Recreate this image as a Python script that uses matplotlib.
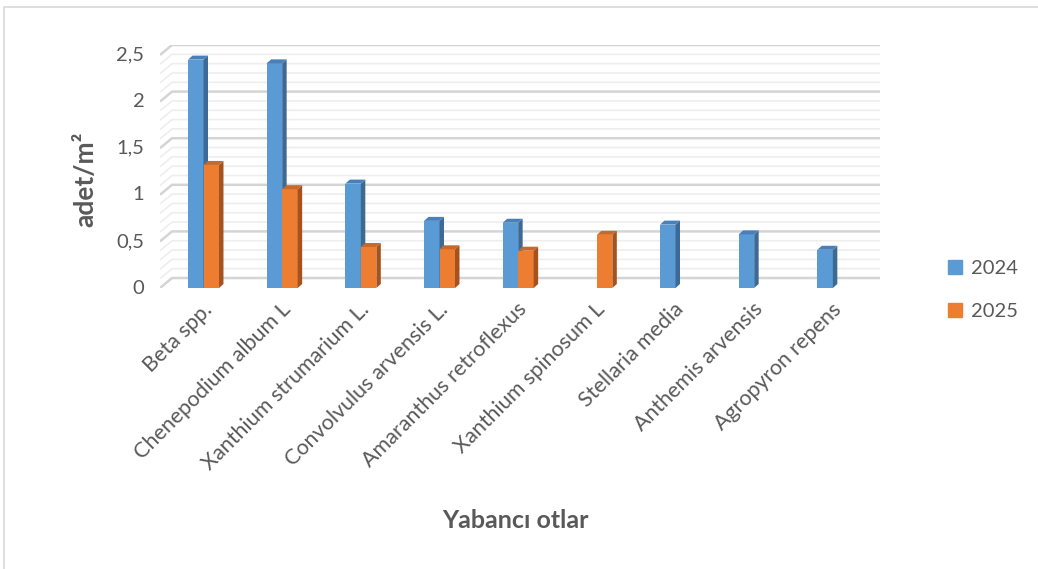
import matplotlib.pyplot as plt
import matplotlib.patches as mpatches
from matplotlib.patches import Polygon
import numpy as np

plt.rcParams['font.family'] = ['Lato', 'DejaVu Sans']

kategoriler = ['Beta spp.', 'Chenepodium album L', 'Xanthium strumarium L.',
               'Convolvulus arvensis L.', 'Amaranthus retroflexus', 'Xanthium spinosum L',
               'Stellaria media', 'Anthemis arvensis', 'Agropyron repens']
y2024 = [2.45, 2.41, 1.12, 0.72, 0.70, 0, 0.68, 0.575, 0.41]
y2025 = [1.32, 1.06, 0.44, 0.415, 0.40, 0.57, 0, 0, 0]
yticks = [0, 0.5, 1, 1.5, 2, 2.5]
ytick_labels = ['0', '0,5', '1', '1,5', '2', '2,5']

W, H = 1038, 569
fig = plt.figure(figsize=(W / 100, H / 100), dpi=100)

# ramka wykresu
fig.patches.append(mpatches.Rectangle((4 / W, -0.1), 1.2, 1 - 7 / H + 0.1, transform=fig.transFigure,
                                      fill=False, edgecolor='#d9d9d9', linewidth=1.2))

ax = fig.add_axes([160 / W, (H - 288) / H, 720 / W, 243 / H])
n = len(kategoriler)
dx, dy = 0.1525, 0.107      # przesuniecie tylnej sciany
ddx, ddy = 0.057, 0.043     # glebokosc slupka
ax.set_xlim(0, n + dx)
ax.set_ylim(0, 2.5 + dy)
ax.axis('off')

# siatka 3D
for v in np.arange(0, 2.51, 0.1):
    major = abs(v / 0.5 - round(v / 0.5)) < 1e-6
    c = '#d4d4d4' if major else '#eeeeee'
    lw = 1.8 if major else 1.2
    ax.plot([0, dx, n + dx], [v, v + dy, v + dy], color=c, lw=lw, zorder=1 if major else 0.5,
            solid_capstyle='butt')

def slupek(x, v, w, front, side, top):
    if v <= 0:
        return
    ax.bar(x, v, w, align='edge', color=front, zorder=3, linewidth=0)
    ax.add_patch(Polygon([[x + w, 0], [x + w + ddx, ddy], [x + w + ddx, v + ddy], [x + w, v]],
                         closed=True, facecolor=side, edgecolor='none', zorder=3))
    ax.add_patch(Polygon([[x, v], [x + ddx, v + ddy], [x + w + ddx, v + ddy], [x + w, v]],
                         closed=True, facecolor=top, edgecolor='none', zorder=3))

w = 0.197
for i in range(n):
    slupek(i + 0.356, y2024[i], w, '#5b9bd5', '#3d6a95', '#4a80b8')
    slupek(i + 0.356 + w, y2025[i], w, '#ed7d31', '#a6521e', '#c8692a')

for t, lab in zip(yticks, ytick_labels):
    ax.text(-0.2, t, lab, ha='right', va='center', fontsize=14.5, color='#595959')

for i, lab in enumerate(kategoriler):
    ax.text(i + 0.53, -0.12, lab, ha='right', va='top', rotation=45, rotation_mode='anchor',
            fontsize=15.5, color='#595959')

fig.text(85 / W, 1 - 179 / H, 'adet/m²', rotation=90, ha='center', va='center',
         fontsize=19, fontweight='bold', color='#595959')
fig.text(515 / W, 1 - 521 / H, 'Yabancı otlar', ha='center', va='center',
         fontsize=18, fontweight='bold', color='#595959')

h1 = mpatches.Patch(color='#5b9bd5', label='2024')
h2 = mpatches.Patch(color='#ed7d31', label='2025')
fig.legend(handles=[h1, h2], loc='center', bbox_to_anchor=(983 / W, 1 - 290 / H), frameon=False,
           fontsize=14.5, labelcolor='#595959', handlelength=0.7, handleheight=0.7,
           handletextpad=0.45, labelspacing=1.25)

fig.savefig('out.png', dpi=100)
